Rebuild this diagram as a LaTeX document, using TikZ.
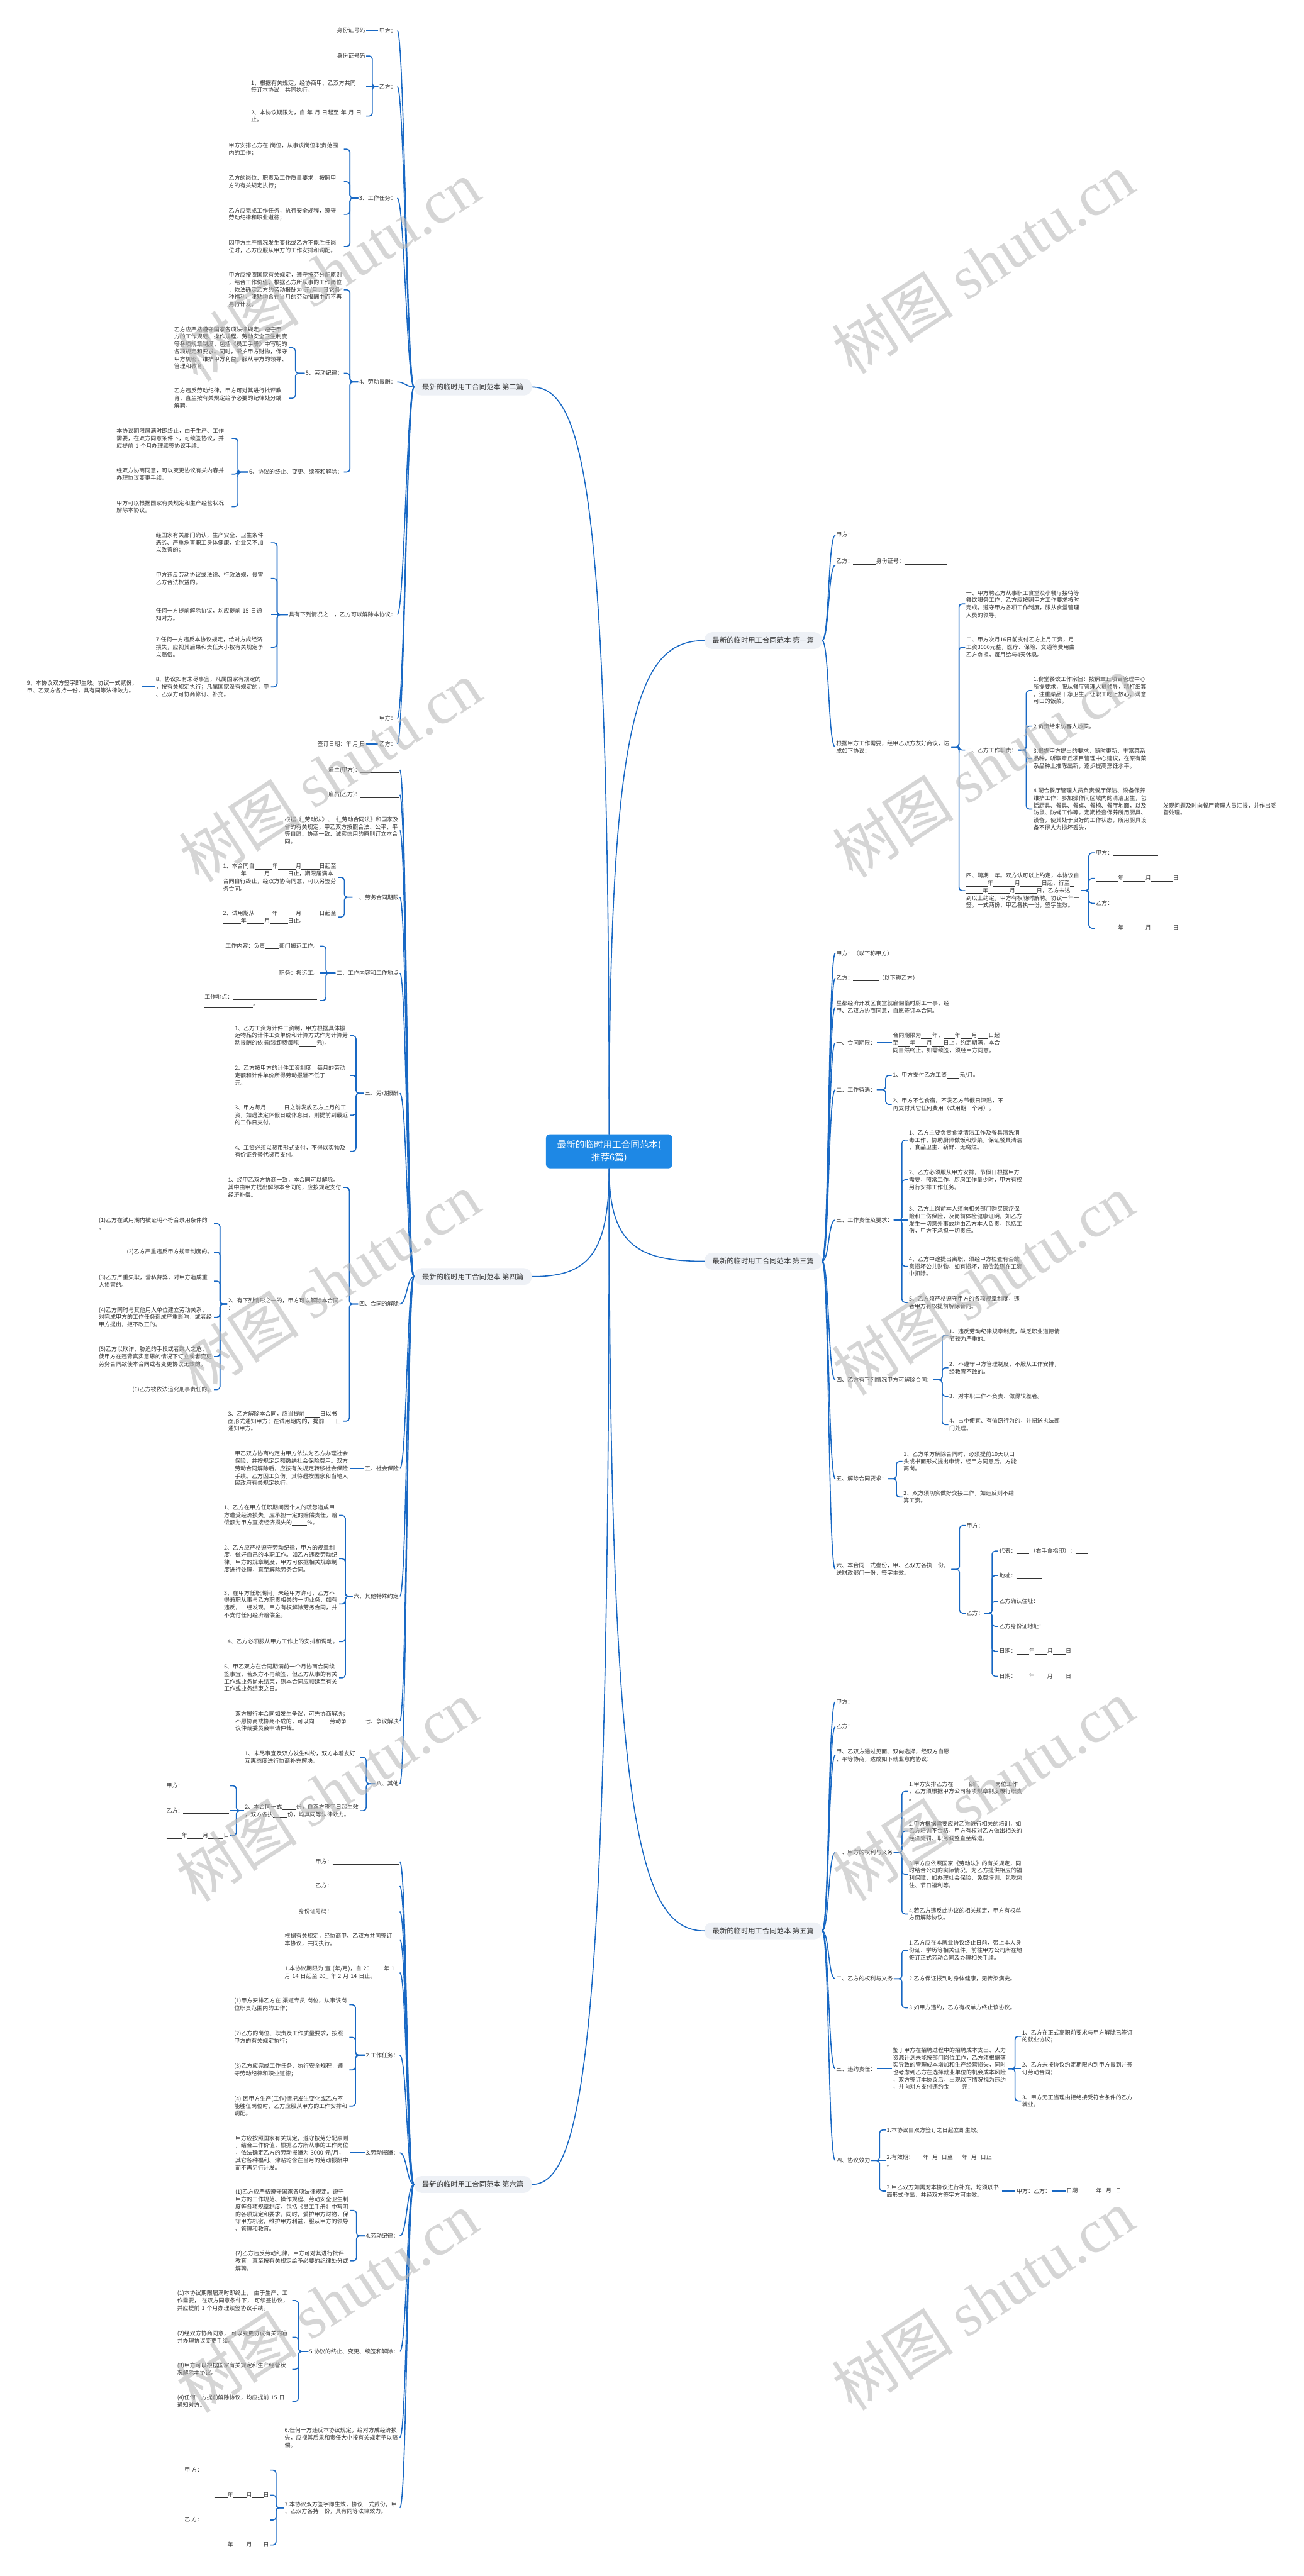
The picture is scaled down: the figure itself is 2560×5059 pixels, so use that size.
\documentclass[tikz,border=0pt]{standalone}
\usepackage{fontspec}
\setmainfont{Noto Sans CJK SC}
\newfontfamily\wmfont{Liberation Serif}

\definecolor{lnc}{RGB}{24,104,196}
\definecolor{rootc}{RGB}{30,136,229}
\definecolor{lvfill}{RGB}{238,241,246}
\definecolor{txtc}{RGB}{51,51,51}
\definecolor{wmc}{RGB}{185,185,185}

\newcommand{\nfs}{\fontsize{11.1}{14.5}\selectfont}
\newcommand{\bk}[1]{\rule[-2pt]{#1pt}{0.7pt}}
% brackets and links, left and right side
\newcommand{\brl}[2]{\foreach \ch in {#2}{\draw[br] (\ch.east) -- ++(12,0) |- (#1.west);}}
\newcommand{\brr}[2]{\foreach \ch in {#2}{\draw[br] (\ch.west) -- ++(-12,0) |- (#1.east);}}
\newcommand{\lkl}[2]{\foreach \ch in {#2}{\draw[lk] (#1.west) .. controls +(-14,0) and +(14,0) .. (\ch.east);}}
\newcommand{\lkr}[2]{\foreach \ch in {#2}{\draw[lk] (#1.east) .. controls +(14,0) and +(-14,0) .. (\ch.west);}}

\begin{document}
\begin{tikzpicture}[x=1pt, y=-1pt,
    every node/.style={inner sep=2pt, outer sep=0pt, text=txtc, font=\nfs},
    rt/.style={fill=rootc, text=white, rounded corners=8pt, align=center, inner xsep=22pt, inner ysep=12pt, font=\fontsize{18}{24}\selectfont},
    lv/.style={fill=lvfill, rounded corners=15pt, inner xsep=16pt, minimum height=33pt, font=\fontsize{14}{16}\selectfont},
    blk/.style={text width=224pt, align=left},
    le/.style={anchor=east}, ri/.style={anchor=west},
    lk/.style={draw=lnc, line width=2pt},
    br/.style={lk, rounded corners=6pt},
    wm/.style={text=wmc, opacity=0.6, rotate=33, font=\fontsize{120}{120}\selectfont}]

    \fill[white] (0,0) rectangle (2560,5059);
    \useasboundingbox (0,0) rectangle (2560,5059);

    % root and the six branches
    \node[rt] (rt) at (1196,2261) {最新的临时用工合同范本(\\推荐6篇)};
    \node[lv, le] (n2) at (1044,760) {最新的临时用工合同范本 第二篇};
    \node[lv, le] (n4) at (1044,2507) {最新的临时用工合同范本 第四篇};
    \node[lv, le] (n6) at (1044,4290) {最新的临时用工合同范本 第六篇};
    \node[lv, ri] (n1) at (1383,1258) {最新的临时用工合同范本 第一篇};
    \node[lv, ri] (n3) at (1383,2477) {最新的临时用工合同范本 第三篇};
    \node[lv, ri] (n5) at (1383,3792) {最新的临时用工合同范本 第五篇};

    \draw[lk] (rt) .. controls (1196,985) and (1150,760) .. (n2.east);
    \draw[lk] (rt) .. controls (1196,2470) and (1150,2507) .. (n4.east);
    \draw[lk] (rt) .. controls (1196,3986) and (1150,4290) .. (n6.east);
    \draw[lk] (rt) .. controls (1196,1408) and (1252,1258) .. (n1.west);
    \draw[lk] (rt) .. controls (1196,2445) and (1252,2477) .. (n3.west);
    \draw[lk] (rt) .. controls (1196,3562) and (1252,3792) .. (n5.west);

    % ---- 第二篇
    \node[le] (n2a) at (780,60) {甲方：};
    \node[le] (n2b) at (780,170) {乙方：};
    \node[le] (n2c) at (780,389) {3、工作任务：};
    \node[le] (n2d) at (780,750) {4、劳动报酬：};
    \node[le] (n2e) at (780,1207) {具有下列情况之一，乙方可以解除本协议：};
    \node[le] (n2f) at (780,1411) {甲方：};
    \node[le] (n2g) at (780,1461) {乙方：};
    \lkl{n2}{n2a,n2b,n2c,n2d,n2e,n2f,n2g}

    \node[le] (n2a1) at (719,60) {身份证号码};
    \draw[lk] (n2a.west) -- (n2a1.east);
    \node[le] (n2b1) at (719,110) {身份证号码};
    \node[blk, le] (n2b2) at (719,170) {1、根据有关规定，经协商甲、乙双方共同\\签订本协议，共同执行。};
    \node[blk, le] (n2b3) at (719,228) {2、本协议期限为，自~年~月~日起至~年~月~日\\止。};
    \brl{n2b}{n2b1,n2b3}
    \draw[lk] (n2b.west) -- (n2b2.east);

    \node[blk, le] (n2c1) at (675,293) {甲方安排乙方在~岗位，从事该岗位职责范围\\内的工作；};
    \node[blk, le] (n2c2) at (675,357) {乙方的岗位、职责及工作质量要求，按照甲\\方的有关规定执行；};
    \node[blk, le] (n2c3) at (675,421) {乙方应完成工作任务，执行安全规程，遵守\\劳动纪律和职业道德；};
    \node[blk, le] (n2c4) at (675,484) {因甲方生产情况发生变化或乙方不能胜任岗\\位时，乙方应服从甲方的工作安排和调配。};
    \brl{n2c}{n2c1,n2c2,n2c3,n2c4}

    \node[blk, le] (n2d1) at (675,569) {甲方应按照国家有关规定，遵守按劳分配原则\\，结合工作价值，根据乙方所从事的工作岗位\\，依法确定乙方的劳动报酬为~元/月，其它各\\种福利、津贴均含在当月的劳动报酬中而不再\\另行计发。};
    \node[le] (n2d2) at (675,733) {5、劳动纪律：};
    \node[le] (n2d3) at (675,927) {6、协议的终止、变更、续签和解除：};
    \brl{n2d}{n2d1,n2d2,n2d3}
    \node[blk, le] (n2d21) at (568,683) {乙方应严格遵守国家各项法律规定。遵守甲\\方的工作规范、操作规程、劳动安全卫生制度\\等各项规章制度，包括《员工手册》中写明的\\各项规定和要求。同时，爱护甲方财物，保守\\甲方机密，维护甲方利益，服从甲方的领导、\\管理和教育。};
    \node[blk, le] (n2d22) at (568,782) {乙方违反劳动纪律，甲方可对其进行批评教\\育，直至按有关规定给予必要的纪律处分或\\解聘。};
    \brl{n2d2}{n2d21,n2d22}
    \node[blk, le] (n2d31) at (455,861) {本协议期限届满时即终止，由于生产、工作\\需要，在双方同意条件下，可续签协议，并\\应提前~1~个月办理续签协议手续。};
    \node[blk, le] (n2d32) at (455,931) {经双方协商同意，可以变更协议有关内容并\\办理协议变更手续。};
    \node[blk, le] (n2d33) at (455,995) {甲方可以根据国家有关规定和生产经营状况\\解除本协议。};
    \brl{n2d3}{n2d31,n2d32,n2d33}

    \node[blk, le] (n2e1) at (532,1066) {经国家有关部门确认，生产安全、卫生条件\\恶劣、严重危害职工身体健康，企业又不加\\以改善的；};
    \node[blk, le] (n2e2) at (532,1136) {甲方违反劳动协议或法律、行政法规，侵害\\乙方合法权益的。};
    \node[blk, le] (n2e3) at (532,1207) {任何一方提前解除协议，均应提前~15~日通\\知对方。};
    \node[blk, le] (n2e4) at (532,1271) {7~任何一方违反本协议规定，给对方成经济\\损失，应视其后果和责任大小按有关规定予\\以赔偿。};
    \node[blk, le] (n2e5) at (532,1349) {8、协议如有未尽事宜，凡属国家有规定的\\，按有关规定执行；凡属国家没有规定的，甲\\、乙双方可协商修订、补充。};
    \brl{n2e}{n2e1,n2e2,n2e4,n2e5}
    \draw[lk] (n2e.west) -- (n2e3.east);
    \node[blk, le] (n2e51) at (279,1349) {9、本协议双方签字即生效。协议一式贰份，\\甲、乙双方各持一份，具有同等法律效力。};
    \draw[lk] (n2e5.west) -- (n2e51.east);
    \node[le] (n2g1) at (719,1461) {签订日期：年~月~日};
    \draw[lk] (n2g.west) -- (n2g1.east);

    % ---- 第四篇
    \node[le] (n4a) at (785,1512) {雇主(甲方)：\bk{75}};
    \node[le] (n4b) at (785,1561) {雇员(乙方)：\bk{75}};
    \node[blk, le] (n4c) at (785,1631) {根据《\_劳动法》、《\_劳动合同法》和国家及\\省的有关规定，甲乙双方按照合法、公平、平\\等自愿、协商一致、诚实信用的原则订立本合\\同。};
    \node[le] (n4d) at (785,1762) {一、劳务合同期限};
    \node[le] (n4e) at (785,1911) {二、工作内容和工作地点};
    \node[le] (n4f) at (785,2147) {三、劳动报酬};
    \node[le] (n4g) at (785,2561) {四、合同的解除};
    \node[le] (n4h) at (785,2884) {五、社会保险};
    \node[le] (n4i) at (785,3135) {六、其他特殊约定};
    \node[le] (n4j) at (785,3380) {七、争议解决};
    \node[le] (n4k) at (785,3503) {八、其他};
    \lkl{n4}{n4a,n4b,n4c,n4d,n4e,n4f,n4g,n4h,n4i,n4j,n4k}

    \node[blk, le] (n4d1) at (664,1723) {1、本合同自\bk{35}年\bk{35}月\bk{35}日起至\\\bk{35}年\bk{35}月\bk{35}日止，期限届满本\\合同自行终止，经双方协商同意，可以另签劳\\务合同。};
    \node[blk, le] (n4d2) at (664,1801) {2、试用期从\bk{35}年\bk{35}月\bk{35}日起至\\\bk{35}年\bk{35}月\bk{35}日止。};
    \brl{n4d}{n4d1,n4d2}
    \node[le] (n4e1) at (628,1858) {工作内容：负责\bk{28}部门搬运工作。};
    \node[le] (n4e2) at (628,1911) {职务：搬运工。};
    \node[blk, le] (n4e3) at (628,1965) {工作地点：\bk{165}\\\bk{95}。};
    \brl{n4e}{n4e1,n4e3}
    \draw[lk] (n4e.west) -- (n4e2.east);
    \node[blk, le] (n4f1) at (687,2034) {1、乙方工资为计件工资制，甲方根据具体搬\\运物品的计件工资单价和计算方式作为计算劳\\动报酬的依据(装卸费每吨\bk{35}元)。};
    \node[blk, le] (n4f2) at (687,2112) {2、乙方按甲方的计件工资制度，每月的劳动\\定额和计件单价所得劳动报酬不低于\bk{35}\\元。};
    \node[blk, le] (n4f3) at (687,2190) {3、甲方每月\bk{35}日之前发放乙方上月的工\\资，如遇法定休假日或休息日，则提前到最近\\的工作日支付。};
    \node[blk, le] (n4f4) at (687,2261) {4、工资必须以货币形式支付，不得以实物及\\有价证券替代货币支付。};
    \brl{n4f}{n4f1,n4f2,n4f3,n4f4}
    \node[blk, le] (n4g1) at (674,2332) {1、经甲乙双方协商一致，本合同可以解除。\\其中由甲方提出解除本合同的，应按规定支付\\经济补偿。};
    \node[blk, le] (n4g2) at (674,2561) {2、有下列情形之一的，甲方可以解除本合同\\：};
    \node[blk, le] (n4g3) at (674,2791) {3、乙方解除本合同，应当提前\bk{30}日以书\\面形式通知甲方；在试用期内的，提前\bk{22}日\\通知甲方。};
    \brl{n4g}{n4g1,n4g3}
    \draw[lk] (n4g.west) -- (n4g2.east);
    \node[blk, le] (n4g21) at (420,2403) {(1)乙方在试用期内被证明不符合录用条件的\\。};
    \node[le] (n4g22) at (420,2459) {(2)乙方严重违反甲方规章制度的。};
    \node[blk, le] (n4g23) at (420,2516) {(3)乙方严重失职，营私舞弊，对甲方造成重\\大损害的。};
    \node[blk, le] (n4g24) at (420,2587) {(4)乙方同时与其他用人单位建立劳动关系，\\对完成甲方的工作任务造成严重影响，或者经\\甲方提出，拒不改正的。};
    \node[blk, le] (n4g25) at (420,2664) {(5)乙方以欺诈、胁迫的手段或者乘人之危，\\使甲方在违背真实意思的情况下订立或者变更\\劳务合同致使本合同或者变更协议无效的。};
    \node[le] (n4g26) at (420,2729) {(6)乙方被依法追究刑事责任的。};
    \brl{n4g2}{n4g21,n4g22,n4g23,n4g24,n4g25,n4g26}
    \node[blk, le] (n4h1) at (687,2884) {甲乙双方协商约定由甲方依法为乙方办理社会\\保险，并按规定足额缴纳社会保险费用。双方\\劳动合同解除后，应按有关规定转移社会保险\\手续。乙方因工负伤，其待遇按国家和当地人\\民政府有关规定执行。};
    \draw[lk] (n4h.west) -- (n4h1.east);
    \node[blk, le] (n4i1) at (666,2976) {1、乙方在甲方任职期间因个人的疏忽造成甲\\方遭受经济损失，应承担一定的赔偿责任，赔\\偿额为甲方直接经济损失的\bk{30}\%。};
    \node[blk, le] (n4i2) at (666,3061) {2、乙方应严格遵守劳动纪律，甲方的规章制\\度，做好自己的本职工作。如乙方违反劳动纪\\律，甲方的规章制度，甲方可依据相关规章制\\度进行处理，直至解除劳务合同。};
    \node[blk, le] (n4i3) at (666,3150) {3、在甲方任职期间，未经甲方许可，乙方不\\得兼职从事与乙方职责相关的一切业务，如有\\违反，一经发现，甲方有权解除劳务合同，并\\不支付任何经济赔偿金。};
    \node[le] (n4i4) at (666,3224) {4、乙方必须服从甲方工作上的安排和调动。};
    \node[blk, le] (n4i5) at (666,3295) {5、甲乙双方在合同期满前一个月协商合同续\\签事宜，若双方不再续签，但乙方从事的有关\\工作或业务尚未结束，则本合同应顺延至有关\\工作或业务结束之日。};
    \brl{n4i}{n4i1,n4i2,n4i3,n4i4,n4i5}
    \node[blk, le] (n4j1) at (688,3380) {双方履行本合同如发生争议，可先协商解决；\\不愿协商或协商不成的，可以向\bk{30}劳动争\\议仲裁委员会申请仲裁。};
    \draw[lk] (n4j.west) -- (n4j1.east);
    \node[blk, le] (n4k1) at (707,3451) {1、未尽事宜及双方发生纠纷，双方本着友好\\互惠态度进行协商补充解决。};
    \node[blk, le] (n4k2) at (707,3556) {2、本合同一式\bk{28}份，自双方签字日起生效\\，双方各执\bk{28}份，均具同等法律效力。};
    \brl{n4k}{n4k1,n4k2}
    \node[le] (n4k21) at (452,3507) {甲方：\bk{90}};
    \node[le] (n4k22) at (452,3556) {乙方：\bk{90}};
    \node[le] (n4k23) at (452,3605) {\bk{30}年\bk{30}月\bk{30}日};
    \brl{n4k2}{n4k21,n4k23}
    \draw[lk] (n4k2.west) -- (n4k22.east);

    % ---- 第六篇
    \node[le] (n6a) at (785,3656) {甲方：\bk{130}};
    \node[le] (n6b) at (785,3704) {乙方：\bk{130}};
    \node[le] (n6c) at (785,3754) {身份证号码：\bk{130}};
    \node[blk, le] (n6d) at (785,3809) {根据有关规定，经协商甲、乙双方共同签订\\本协议，共同执行。};
    \node[blk, le] (n6e) at (785,3874) {1.本协议期限为~壹~(年/月)，自~20\bk{28}年~1\\月~14~日起至~20\_~年~2~月~14~日止。};
    \node[le] (n6f) at (785,4036) {2.工作任务：};
    \node[le] (n6g) at (785,4228) {3.劳动报酬：};
    \node[le] (n6h) at (785,4391) {4.劳动纪律：};
    \node[le] (n6i) at (785,4618) {5.协议的终止、变更、续签和解除：};
    \node[blk, le] (n6j) at (785,4787) {6.任何一方违反本协议规定，给对方成经济损\\失，应视其后果和责任大小按有关规定予以赔\\偿。};
    \node[blk, le] (n6k) at (785,4925) {7.本协议双方签字即生效，协议一式贰份，甲\\、乙双方各持一份，具有同等法律效力。};
    \lkl{n6}{n6a,n6b,n6c,n6d,n6e,n6f,n6g,n6h,n6i,n6j,n6k}

    \node[blk, le] (n6f1) at (686,3937) {(1)甲方安排乙方在~渠道专员~岗位，从事该岗\\位职责范围内的工作；};
    \node[blk, le] (n6f2) at (686,4001) {(2)乙方的岗位、职责及工作质量要求，按照\\甲方的有关规定执行；};
    \node[blk, le] (n6f3) at (686,4065) {(3)乙方应完成工作任务，执行安全规程，遵\\守劳动纪律和职业道德；};
    \node[blk, le] (n6f4) at (686,4136) {(4)~因甲方生产(工作)情况发生变化或乙方不\\能胜任岗位时，乙方应服从甲方的工作安排和\\调配。};
    \brl{n6f}{n6f1,n6f2,n6f3,n6f4}
    \node[blk, le] (n6g1) at (688,4228) {甲方应按照国家有关规定，遵守按劳分配原则\\，结合工作价值，根据乙方所从事的工作岗位\\，依法确定乙方的劳动报酬为~3000~元/月，\\其它各种福利、津贴均含在当月的劳动报酬中\\而不再另行计发。};
    \draw[lk] (n6g.west) -- (n6g1.east);
    \node[blk, le] (n6h1) at (688,4341) {(1)乙方应严格遵守国家各项法律规定。遵守\\甲方的工作规范、操作规程、劳动安全卫生制\\度等各项规章制度，包括《员工手册》中写明\\的各项规定和要求。同时，爱护甲方财物，保\\守甲方机密，维护甲方利益，服从甲方的领导\\、管理和教育。};
    \node[blk, le] (n6h2) at (688,4440) {(2)乙方违反劳动纪律，甲方可对其进行批评\\教育，直至按有关规定给予必要的纪律处分或\\解聘。};
    \brl{n6h}{n6h1,n6h2}
    \node[blk, le] (n6i1) at (574,4518) {(1)本协议期限届满时即终止，~由于生产、工\\作需要，~在双方同意条件下，~可续签协议，\\并应提前~1~个月办理续签协议手续。};
    \node[blk, le] (n6i2) at (574,4590) {(2)经双方协商同意，~可以变更协议有关内容\\并办理协议变更手续。};
    \node[blk, le] (n6i3) at (574,4653) {(3)甲方可以根据国家有关规定和生产经营状\\况解除本协议。};
    \node[blk, le] (n6i4) at (574,4716) {(4)任何一方提前解除协议，均应提前~15~日\\通知对方。};
    \brl{n6i}{n6i1,n6i2,n6i3,n6i4}
    \node[le] (n6k1) at (530,4851) {甲~方：\bk{130}};
    \node[le] (n6k2) at (530,4900) {\bk{26}年\bk{26}月\bk{22}日};
    \node[le] (n6k3) at (530,4949) {乙~方：\bk{130}};
    \node[le] (n6k4) at (530,4998) {\bk{26}年\bk{26}月\bk{22}日};
    \brl{n6k}{n6k1,n6k2,n6k3,n6k4}

    % ---- 第一篇
    \node[ri] (n1a) at (1640,1051) {甲方：\bk{45}};
    \node[blk, ri] (n1b) at (1640,1110) {乙方：\bk{45}身份证号：\bk{84}\\\bk{5}};
    \node[blk, ri] (n1c) at (1640,1467) {根据甲方工作需要，经甲乙双方友好商议，达\\成如下协议：};
    \lkr{n1}{n1a,n1b,n1c}
    \node[blk, ri] (n1c1) at (1895,1186) {一、甲方聘乙方从事职工食堂及小餐厅接待等\\餐饮服务工作，乙方应按照甲方工作要求按时\\完成，遵守甲方各项工作制度，服从食堂管理\\人员的领导。};
    \node[blk, ri] (n1c2) at (1895,1271) {二、甲方次月16日前支付乙方上月工资，月\\工资3000元整，医疗、保险、交通等费用由\\乙方负担，每月给与4天休息。};
    \node[ri] (n1c3) at (1895,1473) {三、乙方工作职责：};
    \node[blk, ri] (n1c4) at (1895,1749) {四、聘期一年。双方认可以上约定，本协议自\\\bk{42}年\bk{42}月\bk{42}日起，行至\bk{8}\\\bk{32}年\bk{42}月\bk{42}日，乙方未达\\到以上约定，甲方有权随时解聘。协议一年一\\签。一式两份，甲乙各执一份，签字生效。};
    \brr{n1c}{n1c1,n1c2,n1c3,n1c4}
    \node[blk, ri] (n1c31) at (2027,1356) {1.食堂餐饮工作宗旨：按照章丘项目管理中心\\所提要求，服从餐厅管理人员领导，精打细算\\，注重菜品干净卫生，让职工吃上放心，满意\\可口的饭菜。};
    \node[ri] (n1c32) at (2027,1426) {2.负责给来访客人炒菜。};
    \node[blk, ri] (n1c33) at (2027,1490) {3.根据甲方提出的要求，随时更新、丰富菜系\\品种，听取章丘项目管理中心建议，在原有菜\\系品种上推陈出新，逐步提高烹饪水平。};
    \node[blk, ri] (n1c34) at (2027,1589) {4.配合餐厅管理人员负责餐厅保洁、设备保养\\维护工作：参加操作间区域内的清洁卫生，包\\括厨具、餐具、餐桌、餐椅、餐厅地面，以及\\防鼠、防蝇工作等。定期检查保养所用厨具、\\设备，使其处于良好的工作状态，所用厨具设\\备不得人为损坏丢失，};
    \brr{n1c3}{n1c31,n1c32,n1c33,n1c34}
    \node[blk, ri] (n1c341) at (2282,1589) {发现问题及时向餐厅管理人员汇报，并作出妥\\善处理。};
    \draw[lk] (n1c34.east) -- (n1c341.west);
    \node[ri] (n1c41) at (2150,1675) {甲方：\bk{89}};
    \node[ri] (n1c42) at (2150,1725) {\bk{43}年\bk{43}月\bk{43}日};
    \node[ri] (n1c43) at (2150,1774) {乙方：\bk{89}};
    \node[ri] (n1c44) at (2150,1823) {\bk{43}年\bk{43}月\bk{43}日};
    \brr{n1c4}{n1c41,n1c42,n1c43,n1c44}

    % ---- 第三篇
    \node[ri] (n3a) at (1640,1872) {甲方：（以下称甲方）};
    \node[ri] (n3b) at (1640,1921) {乙方：\bk{50}（以下称乙方）};
    \node[blk, ri] (n3c) at (1640,1978) {星都经济开发区食堂就雇佣临时厨工一事，经\\甲、乙双方协商同意，自愿签订本合同。};
    \node[ri] (n3d) at (1640,2048) {一、合同期限：};
    \node[ri] (n3e) at (1640,2140) {二、工作待遇：};
    \node[ri] (n3f) at (1640,2396) {三、工作责任及要求：};
    \node[ri] (n3g) at (1640,2710) {四、乙方有下列情况甲方可解除合同：};
    \node[ri] (n3h) at (1640,2904) {五、解除合同要求：};
    \node[blk, ri] (n3i) at (1640,3082) {六、本合同一式叁份，甲、乙双方各执一份，\\送财政部门一份，签字生效。};
    \lkr{n3}{n3a,n3b,n3c,n3d,n3e,n3f,n3g,n3h,n3i}
    \node[blk, ri] (n3d1) at (1751,2048) {合同期限为\bk{22}年，\bk{22}年\bk{22}月\bk{22}日起\\至\bk{22}年\bk{22}月\bk{22}日止，约定期满，本合\\同自然终止。如需续签，须经甲方同意。};
    \draw[lk] (n3d.east) -- (n3d1.west);
    \node[ri] (n3e1) at (1751,2112) {1、甲方支付乙方工资\bk{25}元/月。};
    \node[blk, ri] (n3e2) at (1751,2169) {2、甲方不包食宿，不发乙方节假日津贴，不\\再支付其它任何费用（试用期一个月）。};
    \brr{n3e}{n3e1,n3e2}
    \node[blk, ri] (n3f1) at (1783,2239) {1、乙方主要负责食堂清洁工作及餐具清洗消\\毒工作、协助厨师做饭和炒菜，保证餐具清洁\\、食品卫生、新鲜、无腐烂。};
    \node[blk, ri] (n3f2) at (1783,2317) {2、乙方必须服从甲方安排，节假日根据甲方\\需要，照常工作，厨房工作量少时，甲方有权\\另行安排工作任务。};
    \node[blk, ri] (n3f3) at (1783,2396) {3、乙方上岗前本人须向相关部门购买医疗保\\险和工伤保险，及岗前体检健康证明。如乙方\\发生一切意外事故均由乙方本人负责，包括工\\伤，甲方不承担一切责任。};
    \node[blk, ri] (n3f4) at (1783,2487) {4、乙方中途提出离职，须经甲方检查有否故\\意损坏公共财物，如有损坏，赔偿款则在工资\\中扣除。};
    \node[blk, ri] (n3f5) at (1783,2558) {5、乙方须严格遵守甲方的各项规章制度，违\\者甲方有权提前解除合同。};
    \brr{n3f}{n3f1,n3f2,n3f4,n3f5}
    \draw[lk] (n3f.east) -- (n3f3.west);
    \node[blk, ri] (n3g1) at (1862,2622) {1、违反劳动纪律规章制度，缺乏职业道德情\\节较为严重的。};
    \node[blk, ri] (n3g2) at (1862,2686) {2、不遵守甲方管理制度，不服从工作安排，\\经教育不改的。};
    \node[ri] (n3g3) at (1862,2742) {3、对本职工作不负责、做得较差者。};
    \node[blk, ri] (n3g4) at (1862,2798) {4、占小便宜、有偷窃行为的，并扭送执法部\\门处理。};
    \brr{n3g}{n3g1,n3g2,n3g3,n3g4}
    \node[blk, ri] (n3h1) at (1772,2870) {1、乙方单方解除合同时，必须提前10天以口\\头或书面形式提出申请，经甲方同意后，方能\\离岗。};
    \node[blk, ri] (n3h2) at (1772,2940) {2、双方须切实做好交接工作，如违反则不结\\算工资。};
    \brr{n3h}{n3h1,n3h2}
    \node[ri] (n3i1) at (1896,2996) {甲方：};
    \node[ri] (n3i2) at (1896,3168) {乙方：};
    \brr{n3i}{n3i1,n3i2}
    \node[ri] (n3i21) at (1960,3046) {代表：\bk{25}~（右手食指印）：\bk{25}};
    \node[ri] (n3i22) at (1960,3094) {地址：\bk{50}};
    \node[ri] (n3i23) at (1960,3145) {乙方确认住址：\bk{50}};
    \node[ri] (n3i24) at (1960,3194) {乙方身份证地址：\bk{50}};
    \node[ri] (n3i25) at (1960,3243) {日期：\bk{25}年\bk{25}月\bk{25}日};
    \node[ri] (n3i26) at (1960,3292) {日期：\bk{25}年\bk{25}月\bk{25}日};
    \brr{n3i2}{n3i21,n3i22,n3i23,n3i24,n3i25,n3i26}

    % ---- 第五篇
    \node[ri] (n5a) at (1640,3342) {甲方：};
    \node[ri] (n5b) at (1640,3391) {乙方：};
    \node[blk, ri] (n5c) at (1640,3447) {甲、乙双方通过见面、双向选择，经双方自愿\\、平等协商，达成如下就业意向协议：};
    \node[ri] (n5d) at (1640,3638) {一、甲方的权利与义务};
    \node[ri] (n5e) at (1640,3886) {二、乙方的权利与义务};
    \node[ri] (n5f) at (1640,4063) {三、违约责任：};
    \node[ri] (n5g) at (1640,4243) {四、协议效力};
    \lkr{n5}{n5a,n5b,n5c,n5d,n5e,n5f,n5g}
    \node[blk, ri] (n5d1) at (1783,3518) {1.甲方安排乙方在\bk{30}部门\bk{30}岗位工作\\，乙方须根据甲方公司各项规章制度履行职责\\。};
    \node[blk, ri] (n5d2) at (1783,3596) {2.甲方根据需要应对乙方进行相关的培训，如\\乙方培训不合格，甲方有权对乙方做出相关的\\经济处罚、职务调整直至辞退。};
    \node[blk, ri] (n5d3) at (1783,3681) {3.甲方应依照国家《劳动法》的有关规定，同\\时结合公司的实际情况，为乙方提供相应的福\\利保障，如办理社会保险、免费培训、包吃包\\住、节日福利等。};
    \node[blk, ri] (n5d4) at (1783,3759) {4.若乙方违反此协议的相关规定，甲方有权单\\方面解除协议。};
    \brr{n5d}{n5d1,n5d2,n5d3,n5d4}
    \node[blk, ri] (n5e1) at (1783,3830) {1.乙方应在本就业协议终止日前，带上本人身\\份证、学历等相关证件，前往甲方公司所在地\\签订正式劳动合同及办理相关手续。};
    \node[ri] (n5e2) at (1783,3886) {2.乙方保证报到时身体健康，无传染病史。};
    \node[ri] (n5e3) at (1783,3943) {3.如甲方违约，乙方有权单方终止该协议。};
    \brr{n5e}{n5e1,n5e3}
    \draw[lk] (n5e.east) -- (n5e2.west);
    \node[blk, ri] (n5f1) at (1751,4063) {鉴于甲方在招聘过程中的招聘成本支出、人力\\资源计划未能按部门岗位工作，乙方须根据落\\实导致的管理成本增加和生产经营损失，同时\\也考虑到乙方在选择就业单位的机会成本风险\\，双方签订本协议后，出现以下情况视为违约\\，并向对方支付违约金\bk{25}元：};
    \draw[lk] (n5f.east) -- (n5f1.west);
    \node[blk, ri] (n5f11) at (2005,3999) {1、乙方在正式离职前要求与甲方解除已签订\\的就业协议；};
    \node[blk, ri] (n5f12) at (2005,4063) {2、乙方未按协议约定期限内到甲方报到并签\\订劳动合同；};
    \node[blk, ri] (n5f13) at (2005,4126) {3、甲方无正当理由拒绝接受符合条件的乙方\\就业。};
    \brr{n5f1}{n5f11,n5f13}
    \draw[lk] (n5f1.east) -- (n5f12.west);
    \node[ri] (n5g1) at (1739,4183) {1.本协议自双方签订之日起立即生效。};
    \node[blk, ri] (n5g2) at (1739,4243) {2.有效期：\bk{18}年\bk{7}月\bk{7}日至\bk{18}年\bk{7}月\bk{7}日止\\。};
    \node[blk, ri] (n5g3) at (1739,4303) {3.甲乙双方如需对本协议进行补充，均须以书\\面形式作出，并经双方签字方可生效。};
    \brr{n5g}{n5g1,n5g3}
    \draw[lk] (n5g.east) -- (n5g2.west);
    \node[ri] (n5g31) at (1994,4303) {甲方：乙方：};
    \draw[lk] (n5g3.east) -- (n5g31.west);
    \node[ri] (n5g311) at (2092,4303) {日期：\bk{25}年\bk{8}月\bk{8}日};
    \draw[lk] (n5g31.east) -- (n5g311.west);

    % watermark
    \foreach \wx/\wy [count=\i] in {645/532, 648/1515, 645/2519, 642/3517, 642/4522, 1930/517, 1931/1506, 1930/2523, 1930/3516, 1930/4517}
        \node[wm] (wm\i) at (\wx,\wy) {树图 {\wmfont shutu.cn}};
\end{tikzpicture}
\end{document}
